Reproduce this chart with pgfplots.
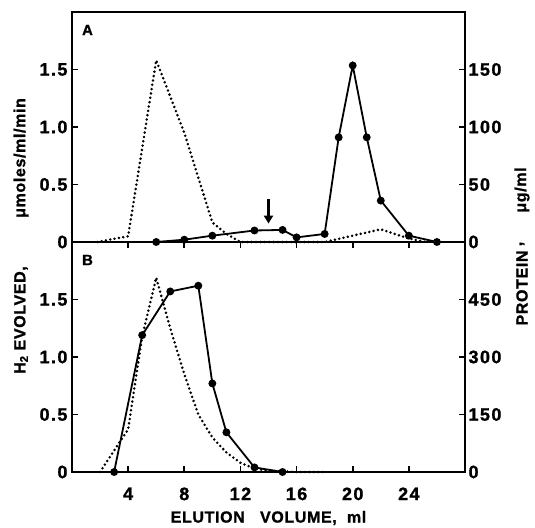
\documentclass[border=0pt]{standalone}
\usepackage{fontspec}
\setmainfont{Liberation Sans}[BoldFeatures={FakeBold=1.2}]
\usepackage{pgfplots}
\pgfplotsset{compat=1.18}
\usetikzlibrary{arrows.meta}
\newcommand\tfont{\fontsize{18}{18}\selectfont\bfseries\addfontfeatures{LetterSpace=8}}
\newcommand\lfont{\fontsize{16}{16}\selectfont\bfseries\addfontfeatures{LetterSpace=4}}
\pgfplotsset{
  base/.style={scale only axis, width=393pt, height=230pt, xmin=0, xmax=28,
    axis line style={line width=1.6pt}, tick style={line width=1.6pt, black},
    major tick length=6pt, tick align=inside,
    ticklabel style={font=\tfont}, /pgf/number format/assume math mode=true},
  leftax/.style={base, ymin=0, ymax=2, ytick={0,0.5,1,1.5}, yticklabels={0,0.5,1.0,1.5},
    ytick pos=left, clip=false, yticklabel style={xshift=-1pt}},
  rightax/.style={base, axis y line*=right, axis x line=none, yticklabel style={xshift=0pt}},
  solidl/.style={black, line width=1.8pt, mark=*, mark size=3pt},
  dotl/.style={black, line width=2.8pt, line cap=round, dash pattern=on 0pt off 4.4pt},
}
\begin{document}
\begin{tikzpicture}
\useasboundingbox (-72pt,-55pt) rectangle (463pt,472pt);
% ---------- Panel A ----------
\begin{axis}[leftax, at={(0,230pt)}, anchor=south west, xtick=\empty]
\addplot[dotl] coordinates {(1.8,0) (4,0.05) (6,1.58) (8,0.95) (10,0.17) (11,0.07) (12,0) (18,0) (22,0.11) (24,0.03) (25.2,0)};
\addplot[solidl] coordinates {(6,0) (8,0.02) (10,0.055) (13,0.10) (15,0.105) (16,0.04) (18,0.07) (19,0.91) (20,1.535) (21,0.91) (22,0.36) (24,0.055) (26,0)};
\draw[line width=2.8pt, -{Triangle[length=8pt,width=9pt]}] (axis cs:14,0.37) -- (axis cs:14,0.16);
\node[font=\fontsize{15}{15}\selectfont\bfseries] at (axis description cs:0,1) [xshift=15.5pt, yshift=-18pt] {A};
\end{axis}
\begin{axis}[rightax, at={(0,230pt)}, anchor=south west, ymin=0, ymax=200, ytick={0,50,100,150}]
\end{axis}
% ---------- Panel B ----------
\begin{axis}[leftax, at={(0,0)}, anchor=south west, xtick={4,8,12,16,20,24},
  xticklabel style={yshift=-12pt}]
\addplot[dotl] coordinates {(2,0) (3.5,0.28) (4,0.37) (5,1.18) (6,1.69) (7,1.25) (8,0.85) (9,0.5) (10,0.3) (11,0.17) (12,0.08) (13,0.03) (14,0.01) (16,0) (18,0)};
\addplot[solidl] coordinates {(3,0) (5,1.19) (7,1.57) (9,1.62) (10,0.77) (11,0.345) (13,0.04) (15,0)};
\node[font=\fontsize{15}{15}\selectfont\bfseries] at (axis description cs:0,1) [xshift=15.5pt, yshift=-18pt] {B};
\end{axis}
\begin{axis}[rightax, at={(0,0)}, anchor=south west, ymin=0, ymax=600, ytick={0,150,300,450}]
\end{axis}
% ---------- Axis titles ----------
\node[font=\lfont] at (196.5pt,-46pt) {ELUTION\ \ \ VOLUME,\ \ ml};
\node[font=\lfont, rotate=90] at (-51pt,152pt) {H\textsubscript{2} EVOLVED,};
\node[font=\lfont, rotate=90] at (-51pt,314pt) {μmoles/ml/min};
\node[font=\lfont, rotate=90] at (450pt,184pt) {PROTEIN};
\node[font=\lfont, rotate=90] at (450pt,228pt) {,};
\node[font=\lfont, rotate=90] at (450pt,282pt) {μg/ml};
\end{tikzpicture}
\end{document}
